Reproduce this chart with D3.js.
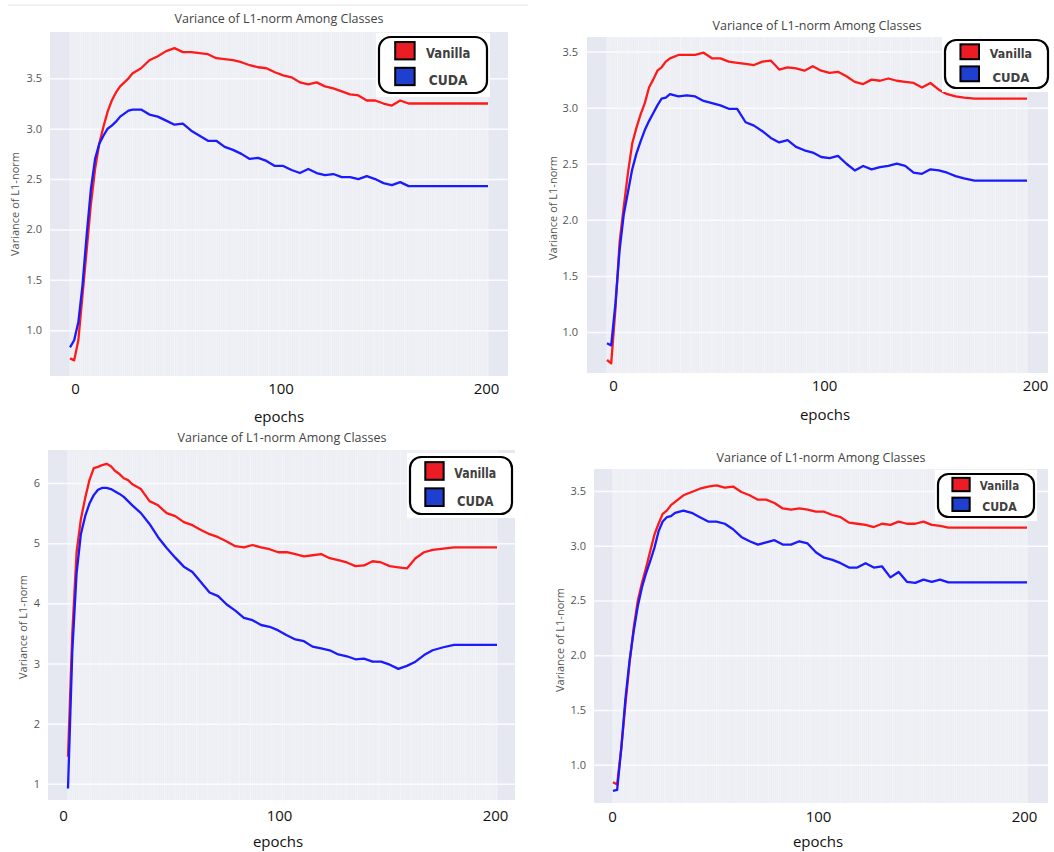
<!DOCTYPE html>
<html>
<head>
<meta charset="utf-8">
<script src="https://cdn.jsdelivr.net/npm/d3@7"></script>
<style>
body { margin: 0; background: #fff; }
svg { display: block; font-family: "Open Sans", sans-serif; }
</style>
</head>
<body>
<svg id="fig" width="1054" height="852"></svg>
<script>
const epochs = [0,2,4,6,8,10,12,14,16,18,20,22,24,26,28,30,
  34,38,42,46,50,54,58,62,66,70,74,78,82,86,90,94,98,102,106,110,
  114,118,122,126,130,134,138,142,146,150,154,158,162,
  166,170,175,180,190,200];

const vanilla1 = [0.72,0.70,0.90,1.35,1.80,2.25,2.60,2.85,3.02,3.17,3.28,3.36,3.42,3.46,3.50,3.55,
  3.60,3.68,3.72,3.77,3.80,3.76,3.76,3.75,3.74,3.70,3.69,3.68,3.66,3.63,3.61,3.60,3.56,3.53,3.51,3.46,
  3.44,3.46,3.42,3.40,3.37,3.34,3.33,3.28,3.28,3.25,3.23,3.28,3.25,
  3.25,3.25,3.25,3.25,3.25,3.25];
const cuda1 = [0.83,0.90,1.08,1.45,1.95,2.40,2.70,2.85,2.93,3.00,3.03,3.07,3.12,3.15,3.18,3.19,
  3.19,3.14,3.12,3.08,3.04,3.05,2.98,2.93,2.88,2.88,2.82,2.79,2.75,2.70,2.71,2.68,2.63,2.63,2.59,2.56,
  2.60,2.56,2.54,2.55,2.52,2.52,2.50,2.53,2.50,2.46,2.44,2.47,2.43,
  2.43,2.43,2.43,2.43,2.43,2.43];

const vanilla2 = [0.75,0.72,1.20,1.80,2.12,2.42,2.68,2.82,2.94,3.04,3.18,3.25,3.33,3.36,3.41,3.44,
  3.47,3.47,3.47,3.49,3.44,3.44,3.41,3.40,3.39,3.38,3.41,3.42,3.34,3.36,3.35,3.33,3.37,3.33,3.31,3.32,
  3.28,3.23,3.21,3.25,3.24,3.26,3.24,3.23,3.22,3.18,3.22,3.16,3.12,
  3.10,3.09,3.08,3.08,3.08,3.08];
const cuda2 = [0.90,0.88,1.25,1.73,2.05,2.25,2.45,2.59,2.70,2.80,2.88,2.95,3.02,3.08,3.09,3.12,
  3.10,3.11,3.10,3.06,3.04,3.02,2.99,2.99,2.87,2.84,2.79,2.73,2.69,2.71,2.65,2.62,2.60,2.56,2.55,2.57,
  2.50,2.44,2.48,2.45,2.47,2.48,2.50,2.48,2.42,2.41,2.45,2.44,2.42,
  2.39,2.37,2.35,2.35,2.35,2.35];

const vanilla3 = [1.45,3.50,4.85,5.40,5.75,6.05,6.25,6.27,6.30,6.32,6.28,6.20,6.15,6.08,6.05,5.98,
  5.90,5.70,5.63,5.50,5.45,5.35,5.30,5.22,5.15,5.10,5.03,4.95,4.93,4.97,4.93,4.90,4.85,4.85,4.82,4.78,
  4.80,4.82,4.75,4.72,4.68,4.62,4.63,4.70,4.68,4.62,4.60,4.58,4.75,
  4.85,4.89,4.91,4.93,4.93,4.93];
const cuda3 = [0.92,3.20,4.50,5.15,5.45,5.66,5.80,5.89,5.92,5.92,5.90,5.86,5.82,5.77,5.70,5.63,
  5.50,5.32,5.10,4.92,4.76,4.61,4.52,4.35,4.18,4.12,3.98,3.88,3.76,3.72,3.64,3.61,3.55,3.47,3.40,3.37,
  3.28,3.25,3.22,3.15,3.12,3.07,3.08,3.03,3.03,2.98,2.91,2.96,3.03,
  3.14,3.22,3.27,3.31,3.31,3.31];

const vanilla4 = [0.84,0.82,1.15,1.55,1.93,2.25,2.50,2.66,2.80,2.95,3.10,3.20,3.29,3.32,3.37,3.40,
  3.46,3.49,3.52,3.54,3.55,3.53,3.54,3.49,3.46,3.42,3.42,3.39,3.34,3.33,3.34,3.33,3.31,3.31,3.28,3.26,
  3.21,3.20,3.19,3.17,3.20,3.19,3.22,3.20,3.20,3.22,3.19,3.18,3.165,
  3.165,3.165,3.165,3.165,3.165,3.165];
const cuda4 = [0.76,0.77,1.15,1.60,1.95,2.22,2.45,2.62,2.75,2.86,2.98,3.13,3.22,3.26,3.27,3.30,
  3.32,3.30,3.26,3.22,3.22,3.20,3.15,3.08,3.04,3.01,3.03,3.05,3.01,3.01,3.04,3.02,2.94,2.89,2.87,2.84,
  2.80,2.80,2.84,2.80,2.81,2.71,2.76,2.67,2.66,2.69,2.67,2.69,2.665,
  2.665,2.665,2.665,2.665,2.665,2.665];

const yTicksSmall = [1.0,1.5,2.0,2.5,3.0,3.5];
const yTicksBig = [1,2,3,4,5,6];
const xTicks = [0,100,200];
const seriesNames = ['Vanilla','CUDA'];
const titleText = 'Variance of L1-norm Among Classes';
const yTitleText = 'Variance of L1-norm';
const xTitleText = 'epochs';

const lineColors = ['#ff1a1a', '#1a1aff'];
const swatchColors = ['#ec1c24', '#1f3fcf'];

// layout of the four panels (pixel boxes)
const layout = [
  {plot:[50,508,32,376], ydom:[0.545,3.96], xr:[70,488], xl:[75,486], tickY:393, xt:[279,417], title:[279,19], yt:[15,204], yLabR:42,
   leg:{x:379,y:37,w:108,h:56,fs:14}},
  {plot:[587,1048,37,373], ydom:[0.634,3.63], xr:[607,1027], xl:[613,1035], tickY:390, xt:[825,415], title:[817,26], yt:[553,208], yLabR:578,
   leg:{x:945,y:40,w:103,h:48,fs:13}},
  {plot:[48,515,450,800], ydom:[0.73,6.55], xr:[68,497], xl:[63,495], tickY:820, xt:[278,842], title:[282,438], yt:[23,627], yLabR:40,
   leg:{x:410,y:457,w:102,h:57,fs:14}},
  {plot:[594,1048,469,803], ydom:[0.65,3.70], xr:[613,1027], xl:[612,1024], tickY:821, xt:[818,842], title:[821,458], yt:[560,640], yLabR:586,
   leg:{x:938,y:474,w:96,h:43,fs:12}}
];

const panels = [
  {series:[vanilla1, cuda1], yTicks:yTicksSmall, fmt:'.1f'},
  {series:[vanilla2, cuda2], yTicks:yTicksSmall, fmt:'.1f'},
  {series:[vanilla3, cuda3], yTicks:yTicksBig, fmt:'d'},
  {series:[vanilla4, cuda4], yTicks:yTicksSmall, fmt:'.1f'}
];

const svg = d3.select('#fig');

// faint rule at the very top of the first screenshot
svg.append('line').attr('x1',8).attr('x2',528).attr('y1',5).attr('y2',5)
  .attr('stroke','#e2e2e2').attr('stroke-width',1);

panels.forEach((p, i) => drawPanel(p, layout[i]));

function drawPanel(p, L) {
  const [x0, x1, y0, y1] = L.plot;
  const g = svg.append('g');
  const x = d3.scaleLinear().domain([0,200]).range(L.xr);
  const xLab = d3.scaleLinear().domain([0,200]).range(L.xl);
  const y = d3.scaleLinear().domain(L.ydom).range([y1, y0]);

  g.append('rect').attr('x',x0).attr('y',y0).attr('width',x1-x0).attr('height',y1-y0)
    .attr('fill','#e6e8f1');
  g.append('rect').attr('x',x(0)).attr('y',y0).attr('width',x(200)-x(0)).attr('height',y1-y0)
    .attr('fill','#edeef4');
  // faint per-epoch streaks
  g.append('g').selectAll('line').data(d3.range(0,201,1)).join('line')
    .attr('x1', d => x(d)).attr('x2', d => x(d)).attr('y1', y0).attr('y2', y1)
    .attr('stroke', '#f6f7fa').attr('stroke-width', 0.9)
    .attr('opacity', d => d % 5 === 0 ? 0.8 : 0.45);

  // horizontal grid
  g.append('g').attr('transform', `translate(${x0},0)`)
    .call(d3.axisLeft(y).tickValues(p.yTicks).tickSize(-(x1-x0)).tickFormat(''))
    .call(a => a.select('.domain').remove())
    .call(a => a.selectAll('line').attr('stroke','#fafbfd').attr('stroke-width',1.5));

  // y tick labels
  g.append('g').attr('transform', `translate(${L.yLabR},0)`)
    .call(d3.axisLeft(y).tickValues(p.yTicks).tickSize(0).tickPadding(0).tickFormat(d3.format(p.fmt)))
    .call(a => a.select('.domain').remove())
    .call(a => a.selectAll('text').attr('fill','#555').style('font-size','11px')
      .style('font-family','"Open Sans", sans-serif'));

  // x tick labels
  g.append('g').attr('transform', `translate(0,${L.tickY - 10})`)
    .call(d3.axisBottom(xLab).tickValues(xTicks).tickSize(0).tickPadding(0))
    .call(a => a.select('.domain').remove())
    .call(a => a.selectAll('text').attr('fill','#111').style('font-size','15px')
      .style('font-family','"Open Sans", sans-serif'));

  g.append('text').attr('x', L.xt[0]).attr('y', L.xt[1]).attr('dy','0.35em')
    .attr('text-anchor','middle').attr('fill','#111').style('font-size','15px')
    .text(xTitleText);

  g.append('text').attr('x', L.title[0]).attr('y', L.title[1]).attr('dy','0.35em')
    .attr('text-anchor','middle').attr('fill','#444').style('font-size','12.5px')
    .text(titleText);

  g.append('text').attr('transform', `translate(${L.yt[0]},${L.yt[1]}) rotate(-90)`)
    .attr('dy','0.35em').attr('text-anchor','middle').attr('fill','#555').style('font-size','11px')
    .text(yTitleText);

  // lines
  const line = d3.line().x((d, k) => x(epochs[k])).y(d => y(d));
  p.series.forEach((vals, k) => {
    g.append('path').datum(vals).attr('d', line)
      .attr('fill','none').attr('stroke', lineColors[k]).attr('stroke-width', 2.3)
      .attr('stroke-linejoin','round');
  });

  drawLegend(g, L.leg);
}

function drawLegend(g, lg) {
  const lgG = g.append('g');
  lgG.append('rect').attr('x', lg.x - 3).attr('y', lg.y - 4).attr('width', lg.w + 6).attr('height', lg.h + 8)
    .attr('fill','#fff');
  lgG.append('rect').attr('x', lg.x).attr('y', lg.y).attr('width', lg.w).attr('height', lg.h)
    .attr('rx', lg.w * 0.11).attr('fill','#fff').attr('stroke','#000').attr('stroke-width',2.2);
  const sx = lg.x + 0.15 * lg.w, sw = 0.18 * lg.w, sh = 0.31 * lg.h;
  const sy = [lg.y + 0.09 * lg.h, lg.y + 0.55 * lg.h];
  const ty = [lg.y + 0.28 * lg.h, lg.y + 0.77 * lg.h];
  const tl = [lg.w * 0.41, lg.w * 0.36];
  seriesNames.forEach((name, k) => {
    lgG.append('rect').attr('x', sx).attr('y', sy[k]).attr('width', sw).attr('height', sh)
      .attr('fill', swatchColors[k]).attr('stroke','#000').attr('stroke-width',2);
    lgG.append('text').attr('x', lg.x + 0.64 * lg.w).attr('y', ty[k]).attr('dy','0.36em')
      .attr('text-anchor','middle').attr('fill','#404040')
      .style('font-family','"DejaVu Sans", sans-serif')
      .style('font-weight','bold').style('font-size', lg.fs + 'px')
      .attr('textLength', tl[k]).attr('lengthAdjust','spacingAndGlyphs')
      .text(name);
  });
}
</script>
</body>
</html>
